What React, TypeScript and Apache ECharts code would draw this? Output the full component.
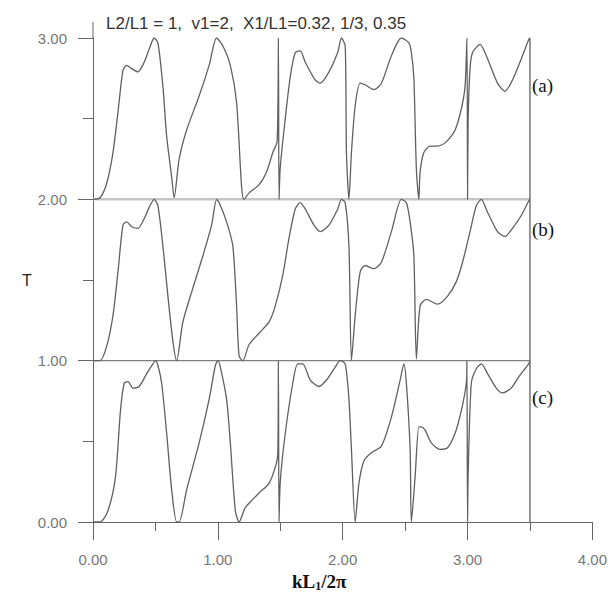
import React, { useEffect, useRef } from "react";
import * as echarts from "echarts";

const TITLE = "L2/L1 = 1,  v1=2,  X1/L1=0.32, 1/3, 0.35";
const X_TICKS = [0, 1, 2, 3, 4];
const Y_TICKS = [0, 1, 2, 3];
const PANEL_LABELS = ["(a)", "(b)", "(c)"];
const PANEL_OFFSETS = [2, 1, 0];

// T vs kL1/2pi for each panel (values 0..1; panel offset added when drawn)
const curveA: [number, number][] = [
  [0, 0], [0.056, 0.01], [0.11, 0.1], [0.16, 0.29], [0.2, 0.54], [0.24, 0.8], [0.27, 0.83], [0.31, 0.81],
  [0.36, 0.79], [0.41, 0.85], [0.45, 0.93], [0.49, 1.0], [0.52, 0.97], [0.56, 0.7], [0.59, 0.39], [0.63, 0.14],
  [0.65, 0.01], [0.69, 0.25], [0.75, 0.43], [0.85, 0.64], [0.93, 0.83], [0.99, 1.0], [1.04, 0.95], [1.1, 0.83],
  [1.15, 0.6], [1.19, 0.08], [1.21, 0], [1.25, 0.04], [1.33, 0.09], [1.39, 0.17], [1.44, 0.29], [1.475, 0.36],
  [1.485, 1.0], [1.49, 0], [1.5, 0.2], [1.54, 0.5], [1.58, 0.76], [1.62, 0.91], [1.66, 0.92], [1.7, 0.85],
  [1.78, 0.74], [1.82, 0.72], [1.89, 0.79], [1.96, 0.91], [1.99, 1.0], [2.02, 0.95], [2.03, 0.29], [2.05, 0],
  [2.07, 0.29], [2.1, 0.58], [2.14, 0.72], [2.18, 0.71], [2.25, 0.68], [2.31, 0.72], [2.39, 0.89], [2.47, 1.0],
  [2.53, 0.97], [2.55, 0.91], [2.57, 0.75], [2.59, 0.19], [2.61, 0], [2.62, 0.17], [2.65, 0.29], [2.7, 0.33],
  [2.76, 0.33], [2.82, 0.35], [2.9, 0.43], [2.95, 0.56], [2.98, 0.7], [2.995, 1.0], [3.0, 0], [3.005, 0.5],
  [3.02, 0.81], [3.04, 0.91], [3.1, 0.96], [3.15, 0.89], [3.24, 0.72], [3.3, 0.67], [3.36, 0.74], [3.43, 0.87],
  [3.49, 0.99], [3.5, 1.0], [3.5, 0],
];

const curveB: [number, number][] = [
  [0, 0], [0.056, 0], [0.11, 0.09], [0.16, 0.28], [0.2, 0.55], [0.24, 0.84], [0.27, 0.86], [0.31, 0.83],
  [0.36, 0.82], [0.41, 0.88], [0.45, 0.95], [0.49, 1.0], [0.52, 0.96], [0.56, 0.71], [0.6, 0.4], [0.64, 0.12],
  [0.67, 0], [0.72, 0.24], [0.8, 0.45], [0.88, 0.65], [0.95, 0.84], [0.99, 1.0], [1.01, 0.98], [1.07, 0.86],
  [1.12, 0.71], [1.15, 0.34], [1.17, 0.03], [1.2, 0], [1.25, 0.1], [1.33, 0.17], [1.41, 0.24], [1.46, 0.34],
  [1.52, 0.53], [1.57, 0.76], [1.62, 0.94], [1.66, 0.98], [1.7, 0.94], [1.77, 0.84], [1.82, 0.8], [1.89, 0.84],
  [1.96, 0.94], [1.99, 1.0], [2.02, 0.98], [2.05, 0.71], [2.07, 0], [2.1, 0.28], [2.14, 0.55], [2.18, 0.59],
  [2.25, 0.57], [2.31, 0.61], [2.39, 0.8], [2.47, 1.0], [2.51, 0.98], [2.54, 0.86], [2.57, 0.65], [2.59, 0.01],
  [2.62, 0.34], [2.67, 0.38], [2.76, 0.35], [2.84, 0.4], [2.91, 0.49], [2.96, 0.61], [3.02, 0.8], [3.07, 0.96],
  [3.11, 1.0], [3.16, 0.92], [3.24, 0.8], [3.3, 0.77], [3.36, 0.82], [3.43, 0.9], [3.49, 0.99], [3.5, 1.0],
  [3.5, 0],
];

const curveC: [number, number][] = [
  [0, 0], [0.056, 0], [0.12, 0.07], [0.18, 0.28], [0.22, 0.69], [0.25, 0.86], [0.28, 0.87], [0.32, 0.83],
  [0.37, 0.84], [0.43, 0.92], [0.48, 0.98], [0.5, 1.0], [0.52, 0.97], [0.55, 0.86], [0.59, 0.55], [0.63, 0.2],
  [0.67, 0], [0.69, 0], [0.75, 0.2], [0.85, 0.49], [0.93, 0.76], [0.98, 0.97], [1.0, 1.0], [1.02, 0.96],
  [1.07, 0.76], [1.1, 0.49], [1.14, 0.07], [1.17, 0], [1.22, 0.09], [1.28, 0.14], [1.33, 0.18], [1.41, 0.24],
  [1.46, 0.34], [1.48, 0.42], [1.485, 1.0], [1.49, 0], [1.5, 0.25], [1.54, 0.55], [1.6, 0.86], [1.64, 0.98],
  [1.68, 0.98], [1.74, 0.88], [1.81, 0.84], [1.87, 0.88], [1.94, 0.96], [1.98, 1.0], [2.02, 0.98], [2.05, 0.76],
  [2.07, 0.45], [2.1, 0], [2.13, 0.24], [2.17, 0.38], [2.23, 0.43], [2.31, 0.47], [2.39, 0.65], [2.46, 0.88],
  [2.49, 0.98], [2.51, 0.86], [2.54, 0.45], [2.55, 0], [2.58, 0.28], [2.61, 0.59], [2.63, 0.59], [2.66, 0.57],
  [2.71, 0.49], [2.78, 0.45], [2.84, 0.46], [2.9, 0.55], [2.95, 0.69], [2.99, 0.86], [2.995, 1.0], [3.0, 0],
  [3.005, 0.3], [3.03, 0.86], [3.07, 0.95], [3.11, 0.98], [3.16, 0.92], [3.23, 0.83], [3.28, 0.8], [3.35, 0.83],
  [3.41, 0.9], [3.49, 0.98], [3.5, 1.0], [3.5, 0],
];

const CURVES = [curveA, curveB, curveC];
const BASELINE_X = [0, 3.5];

const SANS = "'Liberation Sans', Arial, Helvetica, sans-serif";
const SERIF = "'Liberation Serif', 'Times New Roman', serif";
const AXIS_COLOR = "#666";

export default function App() {
  const ref = useRef<HTMLDivElement>(null);

  useEffect(() => {
    if (!ref.current) return;
    const chart = echarts.init(ref.current, undefined, { renderer: "svg" });

    const curveSeries = CURVES.map((c, i) => ({
      type: "line",
      name: PANEL_LABELS[i],
      data: c.map(([x, t]) => [x, t + PANEL_OFFSETS[i]]),
      showSymbol: false,
      symbol: "none",
      smooth: 0.25,
      lineStyle: { color: "#606060", width: 1.3 },
      z: 3,
    }));

    const baselineSeries = PANEL_OFFSETS.filter((o) => o > 0).map((o) => ({
      type: "line",
      data: BASELINE_X.map((x) => [x, o]),
      showSymbol: false,
      symbol: "none",
      lineStyle: o === 2 ? { color: "#c4c4c4", width: 2.5 } : { color: "#808080", width: 1.4 },
      z: 2,
    }));

    const axisExtension = {
      type: "line",
      data: [[0, 3], [0, 3.1]],
      showSymbol: false,
      symbol: "none",
      clip: false,
      lineStyle: { color: AXIS_COLOR, width: 1 },
      z: 2,
    };

    const fmt = (v: number) => v.toFixed(2);

    chart.setOption({
      animation: false,
      backgroundColor: "#ffffff",
      title: {
        text: TITLE,
        left: 101,
        top: 10,
        textStyle: { fontFamily: SANS, fontSize: 17, fontWeight: "normal", color: "#333" },
      },
      grid: { left: 93, right: 16, top: 38, bottom: 80, containLabel: false },
      xAxis: {
        type: "value",
        min: X_TICKS[0],
        max: X_TICKS[X_TICKS.length - 1],
        interval: 1,
        axisLine: { show: true, onZero: false, lineStyle: { color: AXIS_COLOR, width: 1 } },
        axisTick: { show: true, length: 18, lineStyle: { color: AXIS_COLOR } },
        minorTick: { show: true, splitNumber: 2, length: 9, lineStyle: { color: AXIS_COLOR } },
        axisLabel: { formatter: fmt, margin: 30, fontSize: 15, color: "#777", fontFamily: SANS },
        splitLine: { show: false },
        minorSplitLine: { show: false },
      },
      yAxis: {
        type: "value",
        min: Y_TICKS[0],
        max: Y_TICKS[Y_TICKS.length - 1],
        interval: 1,
        name: "T",
        nameLocation: "middle",
        nameGap: 54,
        nameRotate: 0,
        nameTextStyle: { fontFamily: SANS, fontSize: 16, color: "#222" },
        axisLine: { show: true, onZero: false, lineStyle: { color: AXIS_COLOR, width: 1 } },
        axisTick: { show: true, length: 15, lineStyle: { color: AXIS_COLOR } },
        minorTick: { show: true, splitNumber: 2, length: 10, lineStyle: { color: AXIS_COLOR } },
        axisLabel: { formatter: fmt, margin: 26, fontSize: 15, color: "#777", fontFamily: SANS },
        splitLine: { show: false },
        minorSplitLine: { show: false },
      },
      graphic: [
        ...PANEL_LABELS.map((lab, i) => ({
          type: "text",
          left: 532,
          top: [76, 220, 388][i],
          style: { text: lab, font: `19px ${SERIF}`, fill: "#111" },
        })),
        {
          type: "text",
          left: 292,
          top: 572,
          style: {
            text: "{a|kL}{s|1}{a|/2π}",
            rich: {
              a: { fontFamily: SERIF, fontSize: 19, fontWeight: "bold", fill: "#111", color: "#111" },
              s: { fontFamily: SERIF, fontSize: 12, fontWeight: "bold", fill: "#111", color: "#111", verticalAlign: "bottom", padding: [8, 0, 0, 0] },
            },
          },
        },
      ],
      series: [...baselineSeries, axisExtension, ...curveSeries],
    });

    return () => chart.dispose();
  }, []);

  return (
    <div
      ref={ref}
      style={{ position: "fixed", left: 0, top: 0, width: 610, height: 602, background: "#fff" }}
    />
  );
}
